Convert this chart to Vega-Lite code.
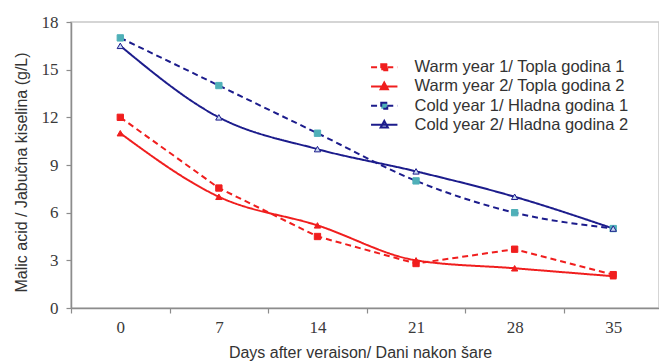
{
  "$schema": "https://vega.github.io/schema/vega-lite/v6.json",
  "width": 588,
  "height": 286,
  "autosize": {"type": "none"},
  "padding": {"left": 71, "top": 22, "right": 0, "bottom": 56},
  "background": "white",
  "config": {
    "view": {"stroke": "#c8c8c8", "strokeWidth": 1.5},
    "axis": {
      "grid": false,
      "domainColor": "#8c8c8c",
      "domainWidth": 1.5,
      "tickColor": "#8c8c8c",
      "tickWidth": 1.2,
      "tickSize": 5,
      "labelFont": "Liberation Serif",
      "labelFontSize": 17,
      "labelColor": "#3a3a3a",
      "titleFont": "Liberation Sans",
      "titleFontSize": 16,
      "titleFontWeight": "normal",
      "titleColor": "#333333",
      "labelFlush": false,
      "labelOverlap": false
    }
  },
  "data": {
    "values": [
      {"series": "Warm year 1/ Topla godina 1", "day": 0, "value": 12.0},
      {"series": "Warm year 1/ Topla godina 1", "day": 7, "value": 7.55},
      {"series": "Warm year 1/ Topla godina 1", "day": 14, "value": 4.5},
      {"series": "Warm year 1/ Topla godina 1", "day": 21, "value": 2.8},
      {"series": "Warm year 1/ Topla godina 1", "day": 28, "value": 3.7},
      {"series": "Warm year 1/ Topla godina 1", "day": 35, "value": 2.1},
      {"series": "Warm year 2/ Topla godina 2", "day": 0, "value": 11.0},
      {"series": "Warm year 2/ Topla godina 2", "day": 7, "value": 7.0},
      {"series": "Warm year 2/ Topla godina 2", "day": 14, "value": 5.2},
      {"series": "Warm year 2/ Topla godina 2", "day": 21, "value": 3.0},
      {"series": "Warm year 2/ Topla godina 2", "day": 28, "value": 2.5},
      {"series": "Warm year 2/ Topla godina 2", "day": 35, "value": 2.0},
      {"series": "Cold year 1/ Hladna godina 1", "day": 0, "value": 17.0},
      {"series": "Cold year 1/ Hladna godina 1", "day": 7, "value": 14.0},
      {"series": "Cold year 1/ Hladna godina 1", "day": 14, "value": 11.0},
      {"series": "Cold year 1/ Hladna godina 1", "day": 21, "value": 8.0},
      {"series": "Cold year 1/ Hladna godina 1", "day": 28, "value": 6.0},
      {"series": "Cold year 1/ Hladna godina 1", "day": 35, "value": 5.0},
      {"series": "Cold year 2/ Hladna godina 2", "day": 0, "value": 16.5},
      {"series": "Cold year 2/ Hladna godina 2", "day": 7, "value": 12.0},
      {"series": "Cold year 2/ Hladna godina 2", "day": 14, "value": 10.0},
      {"series": "Cold year 2/ Hladna godina 2", "day": 21, "value": 8.6},
      {"series": "Cold year 2/ Hladna godina 2", "day": 28, "value": 7.0},
      {"series": "Cold year 2/ Hladna godina 2", "day": 35, "value": 5.0}
    ]
  },
  "encoding": {
    "x": {
      "field": "day",
      "type": "quantitative",
      "scale": {"domain": [-3.5, 38.25], "nice": false, "zero": false},
      "axis": {
        "title": "Days after veraison/ Dani nakon šare",
        "values": [-3.5, 0, 3.5, 7, 10.5, 14, 17.5, 21, 24.5, 28, 31.5, 35],
        "labelExpr": "datum.value % 7 == 0 ? datum.label : ''",
        "tickOpacity": {"condition": {"test": "datum.value % 7 == 0", "value": 0}, "value": 1},
        "labelPadding": 6,
        "titlePadding": 9,
        "titleX": 289
      }
    },
    "y": {
      "field": "value",
      "type": "quantitative",
      "scale": {"domain": [0, 18], "nice": false},
      "axis": {
        "title": "Malic acid / Jabučna kiselina (g/L)",
        "values": [0, 3, 6, 9, 12, 15, 18],
        "labelPadding": 8,
        "titlePadding": 12,
        "titleY": 150
      }
    }
  },
  "layer": [
    {
      "transform": [{"filter": "datum.series == 'Warm year 1/ Topla godina 1'"}],
      "mark": {"type": "line", "interpolate": "linear", "strokeWidth": 2},
      "encoding": {
        "color": {
          "field": "series",
          "type": "nominal",
          "scale": {
            "domain": ["Warm year 1/ Topla godina 1", "Warm year 2/ Topla godina 2", "Cold year 1/ Hladna godina 1", "Cold year 2/ Hladna godina 2"],
            "range": ["#f01e1e", "#f01e1e", "#1c1c8c", "#1c1c8c"]
          },
          "legend": {
            "orient": "none",
            "legendX": 305,
            "legendY": 37,
            "title": null,
            "padding": 0,
            "symbolSize": 144,
            "symbolStrokeWidth": 2,
            "rowPadding": 2.2,
            "labelOffset": 22,
            "labelFont": "Liberation Sans",
            "labelFontSize": 16.5,
            "labelColor": "#333333",
            "labelLimit": 400,
            "encode": {
              "symbols": {
                "update": {
                  "size": {"value": 144},
                  "shape": {"signal": "(datum.value == 'Warm year 2/ Topla godina 2' || datum.value == 'Cold year 2/ Hladna godina 2') ? 'M-2.2,0L2.2,0M0,-0.65L0.6,0.45L-0.6,0.45Z' : 'M-2.2,0L-0.5,0M0.5,0L2.2,0M-0.5,-0.5L0.5,-0.5L0.5,0.5L-0.5,0.5Z'"},
                  "strokeDash": {"signal": "(datum.value == 'Warm year 1/ Topla godina 1' || datum.value == 'Cold year 1/ Hladna godina 1') ? [6,4] : [1,0]"},
                  "stroke": {"signal": "(datum.value == 'Warm year 1/ Topla godina 1' || datum.value == 'Warm year 2/ Topla godina 2') ? '#f01e1e' : '#1c1c8c'"},
                  "strokeWidth": {"value": 2},
                  "fill": {"signal": "datum.value == 'Cold year 1/ Hladna godina 1' ? '#4fb0b8' : (datum.value == 'Cold year 2/ Hladna godina 2' ? '#c8d8f0' : '#f01e1e')"},
                  "fillOpacity": {"value": 1},
                  "strokeOpacity": {"value": 1},
                  "opacity": {"value": 1}
                }
              }
            }
          }
        },
        "strokeDash": {
          "field": "series",
          "type": "nominal",
          "scale": {
            "domain": ["Warm year 1/ Topla godina 1", "Warm year 2/ Topla godina 2", "Cold year 1/ Hladna godina 1", "Cold year 2/ Hladna godina 2"],
            "range": [[6, 4], [1, 0], [6, 4], [1, 0]]
          },
          "legend": null
        }
      }
    },
    {
      "transform": [{"filter": "datum.series != 'Warm year 1/ Topla godina 1'"}],
      "mark": {"type": "line", "interpolate": "monotone", "strokeWidth": 2},
      "encoding": {
        "color": {"field": "series", "type": "nominal"},
        "strokeDash": {"field": "series", "type": "nominal", "legend": null}
      }
    },
    {
      "transform": [{"filter": "datum.series == 'Warm year 1/ Topla godina 1' || datum.series == 'Cold year 1/ Hladna godina 1'"}],
      "mark": {"type": "point", "shape": "square", "filled": true, "size": 40, "strokeWidth": 1, "opacity": 1},
      "encoding": {
        "fill": {
          "field": "series",
          "type": "nominal",
          "scale": {
            "domain": ["Warm year 1/ Topla godina 1", "Warm year 2/ Topla godina 2", "Cold year 1/ Hladna godina 1", "Cold year 2/ Hladna godina 2"],
            "range": ["#f01e1e", "#f01e1e", "#4fb0b8", "#c8d8f0"]
          },
          "legend": null
        },
        "stroke": {
          "field": "series",
          "type": "nominal",
          "scale": {
            "domain": ["Warm year 1/ Topla godina 1", "Warm year 2/ Topla godina 2", "Cold year 1/ Hladna godina 1", "Cold year 2/ Hladna godina 2"],
            "range": ["#f01e1e", "#f01e1e", "#4fb0b8", "#1c1c8c"]
          },
          "legend": null
        }
      }
    },
    {
      "transform": [{"filter": "datum.series == 'Warm year 2/ Topla godina 2' || datum.series == 'Cold year 2/ Hladna godina 2'"}],
      "mark": {"type": "point", "shape": "triangle-up", "filled": true, "size": 40, "strokeWidth": 1, "opacity": 1},
      "encoding": {
        "fill": {"field": "series", "type": "nominal", "legend": null},
        "stroke": {"field": "series", "type": "nominal", "legend": null}
      }
    }
  ]
}
